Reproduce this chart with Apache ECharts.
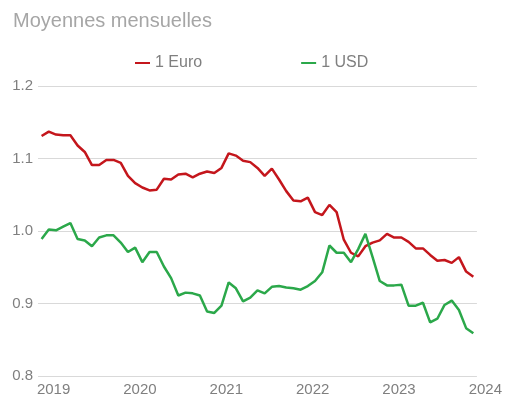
<!DOCTYPE html>
<html>
<head>
<meta charset="utf-8">
<script src="https://cdn.jsdelivr.net/npm/echarts@6/dist/echarts.min.js"></script>
<style>
	html, body { margin: 0; padding: 0; background: #fff; }
	#chart_moyennes { width: 505px; height: 401px; }
</style>
</head>
<body>
<div id="chart_moyennes"></div>
<script>
	// valeurs mensuelles, janv. 2019 -> janv. 2024
	var years = ['2019', '2020', '2021', '2022', '2023', '2024'];
	var seriesNames = ['1 Euro', '1 USD'];
	var euroData = [
		1.131, 1.137, 1.133, 1.132, 1.132, 1.118, 1.109, 1.091, 1.091, 1.098, 1.098, 1.094,
		1.076, 1.066, 1.060, 1.056, 1.057, 1.072, 1.071, 1.078, 1.079, 1.074, 1.079, 1.082,
		1.080, 1.087, 1.107, 1.104, 1.097, 1.095, 1.087, 1.076, 1.086, 1.071, 1.055, 1.042,
		1.041, 1.046, 1.026, 1.022, 1.036, 1.026, 0.988, 0.970, 0.965, 0.979, 0.984, 0.987,
		0.996, 0.991, 0.991, 0.985, 0.976, 0.976, 0.967, 0.959, 0.960, 0.956, 0.964, 0.944,
		0.937
	];
	var usdData = [
		0.989, 1.002, 1.001, 1.006, 1.011, 0.989, 0.987, 0.979, 0.991, 0.994, 0.994, 0.984,
		0.971, 0.977, 0.957, 0.971, 0.971, 0.951, 0.935, 0.911, 0.915, 0.914, 0.911, 0.889,
		0.887, 0.897, 0.929, 0.921, 0.903, 0.908, 0.918, 0.914, 0.923, 0.924, 0.922, 0.921,
		0.919, 0.924, 0.931, 0.943, 0.980, 0.970, 0.970, 0.957, 0.975, 0.996, 0.964, 0.931,
		0.925, 0.925, 0.926, 0.897, 0.897, 0.901, 0.874, 0.879, 0.898, 0.904, 0.891, 0.866,
		0.859
	];
	var myColor = ['#c4161c', '#2ba84a'];

	// une categorie par mois
	var months = [];
	for (var i = 0; i < years.length; i++) {
		for (var m = 1; m <= 12; m++) {
			if (i == years.length - 1 && m > 1) break;
			months.push(years[i] + '-' + (m < 10 ? '0' + m : m));
		}
	}

	var chart = echarts.init(document.getElementById('chart_moyennes'));
	chart.setOption({
		animation: false,
		title: {
			text: 'Moyennes mensuelles',
			left: 8,
			top: 6,
			textStyle: {
				color: '#a6a6a6',
				fontSize: 20,
				fontWeight: 'normal',
				fontFamily: 'Liberation Sans'
			}
		},
		legend: {
			data: seriesNames,
			left: 135,
			top: 55,
			padding: 0,
			itemGap: 99,
			itemWidth: 15,
			itemHeight: 2,
			icon: 'rect',
			textStyle: {
				color: '#7f7f7f',
				fontSize: 16,
				fontFamily: 'Liberation Sans'
			}
		},
		grid: {
			left: 38,
			right: 27,
			top: 86,
			bottom: 25
		},
		xAxis: {
			type: 'category',
			data: months,
			boundaryGap: true,
			axisLine: { show: false },
			axisTick: { show: false },
			splitLine: { show: false },
			axisLabel: {
				interval: 11,
				margin: 6,
				padding: [0, 0, 0, 24],
				color: '#7f7f7f',
				fontSize: 15,
				fontFamily: 'Liberation Sans',
				formatter: function(value) {
					return value.slice(0, 4);
				}
			}
		},
		yAxis: {
			type: 'value',
			min: 0.8,
			max: 1.2,
			interval: 0.1,
			axisLine: { show: false },
			axisTick: { show: false },
			splitLine: {
				lineStyle: { color: '#d9d9d9', width: 1 }
			},
			axisLabel: {
				margin: 5,
				color: '#7f7f7f',
				fontSize: 15,
				fontFamily: 'Liberation Sans',
				formatter: function(value) {
					return value.toFixed(1);
				}
			}
		},
		series: [{
			name: seriesNames[0],
			type: 'line',
			data: euroData,
			showSymbol: false,
			color: myColor[0],
			lineStyle: { width: 2.5, color: myColor[0] }
		}, {
			name: seriesNames[1],
			type: 'line',
			data: usdData,
			showSymbol: false,
			color: myColor[1],
			lineStyle: { width: 2.5, color: myColor[1] }
		}]
	});
</script>
</body>
</html>
